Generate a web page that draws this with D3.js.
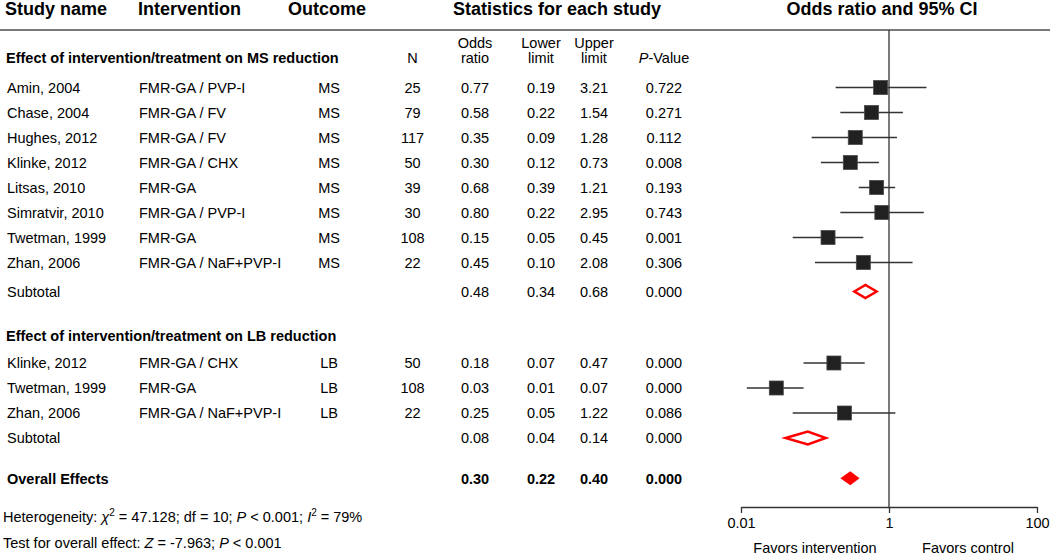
<!DOCTYPE html>
<html>
<head>
<meta charset="utf-8">
<script src="https://cdn.jsdelivr.net/npm/d3@7"></script>
<style>
  html, body { margin: 0; padding: 0; background: #fff; }
  svg { display: block; }
  text { font-family: "Liberation Sans", Arial, Helvetica, sans-serif; fill: #000; }
</style>
</head>
<body>
<svg id="chart" width="1050" height="554"></svg>
<script>
// ---------------- DATA ----------------
const colHeaders = ["Study name", "Intervention", "Outcome"];
const statHeaderTitle = "Statistics for each study";
const plotTitle = "Odds ratio and 95% CI";

const msGroupLabel = "Effect of intervention/treatment on MS reduction";
const msNames = ["Amin, 2004", "Chase, 2004", "Hughes, 2012", "Klinke, 2012", "Litsas, 2010", "Simratvir, 2010", "Twetman, 1999", "Zhan, 2006"];
const msInterventions = ["FMR-GA / PVP-I", "FMR-GA / FV", "FMR-GA / FV", "FMR-GA / CHX", "FMR-GA", "FMR-GA / PVP-I", "FMR-GA", "FMR-GA / NaF+PVP-I"];
const msOutcome = "MS";
const msN = [25, 79, 117, 50, 39, 30, 108, 22];
const msOR = [0.77, 0.58, 0.35, 0.30, 0.68, 0.80, 0.15, 0.45];
const msLower = [0.19, 0.22, 0.09, 0.12, 0.39, 0.22, 0.05, 0.10];
const msUpper = [3.21, 1.54, 1.28, 0.73, 1.21, 2.95, 0.45, 2.08];
const msP = [0.722, 0.271, 0.112, 0.008, 0.193, 0.743, 0.001, 0.306];
const msSubtotal = { or: 0.48, lower: 0.34, upper: 0.68, p: 0.000 };

const lbGroupLabel = "Effect of intervention/treatment on LB reduction";
const lbNames = ["Klinke, 2012", "Twetman, 1999", "Zhan, 2006"];
const lbInterventions = ["FMR-GA / CHX", "FMR-GA", "FMR-GA / NaF+PVP-I"];
const lbOutcome = "LB";
const lbN = [50, 108, 22];
const lbOR = [0.18, 0.03, 0.25];
const lbLower = [0.07, 0.012, 0.05];
const lbUpper = [0.47, 0.07, 1.22];
const lbP = [0.000, 0.000, 0.086];
const lbSubtotal = { or: 0.08, lower: 0.04, upper: 0.14, p: 0.000 };

const overall = { or: 0.30, lower: 0.22, upper: 0.40, p: 0.000 };

const axisTicks = [0.01, 1, 100];
const favorLabels = ["Favors intervention", "Favors control"];

// ---------------- LAYOUT ----------------
const svg = d3.select("#chart");
const FONT = 14.5;
const CAP = 5.2; // half cap height offset for baseline
const x = d3.scaleLog().domain([0.01, 100]).range([741, 1037]);
const fmt2 = d3.format(".2f"), fmt3 = d3.format(".3f");
const col = { name: 7, interv: 139, outcome: 329, n: 412.5, or: 475, lo: 541, hi: 594, p: 664 };

// Build row list
const rows = [];
let y = 58;
rows.push({ type: "group", label: msGroupLabel, y });
y = 87.5;
msNames.forEach((nm, i) => {
  rows.push({ type: "study", name: nm, interv: msInterventions[i], outcome: msOutcome, n: msN[i],
    or: msOR[i], lower: msLower[i], upper: msUpper[i], p: msP[i], y });
  y += 25;
});
y = y - 25 + 29;
rows.push(Object.assign({ type: "subtotal", name: "Subtotal", y }, msSubtotal));
y += 44;
rows.push({ type: "group", label: lbGroupLabel, y });
y += 27.5;
lbNames.forEach((nm, i) => {
  rows.push({ type: "study", name: nm, interv: lbInterventions[i], outcome: lbOutcome, n: lbN[i],
    or: lbOR[i], lower: lbLower[i], upper: lbUpper[i], p: lbP[i], y });
  y += 25;
});
rows.push(Object.assign({ type: "subtotal", name: "Subtotal", y }, lbSubtotal));
y += 40.3;
rows.push(Object.assign({ type: "overall", name: "Overall Effects", y }, overall));

const axisY = 507;

// ---------------- HEADER ----------------
const hdr = svg.append("g").attr("font-size", 18).attr("font-weight", "bold");
hdr.append("text").attr("x", 5).attr("y", 15).text(colHeaders[0]);
hdr.append("text").attr("x", 138).attr("y", 15).text(colHeaders[1]);
hdr.append("text").attr("x", 288).attr("y", 15).text(colHeaders[2]);
hdr.append("text").attr("x", 557).attr("y", 15).attr("text-anchor", "middle").text(statHeaderTitle);
hdr.append("text").attr("x", 882).attr("y", 15).attr("text-anchor", "middle").text(plotTitle);

svg.append("line").attr("x1", 0).attr("x2", 1050).attr("y1", 30).attr("y2", 30)
  .attr("stroke", "#7a7a7a").attr("stroke-width", 2);

// sub headers for stats
const sub = svg.append("g").attr("font-size", FONT).attr("text-anchor", "middle");
sub.append("text").attr("x", col.n).attr("y", 62.5).text("N");
[["Odds", "ratio", col.or], ["Lower", "limit", col.lo], ["Upper", "limit", col.hi]].forEach(([a, b, cx]) => {
  sub.append("text").attr("x", cx).attr("y", 48).text(a);
  sub.append("text").attr("x", cx).attr("y", 62.5).text(b);
});
const pv = sub.append("text").attr("x", col.p).attr("y", 62.5);
pv.append("tspan").attr("font-style", "italic").text("P");
pv.append("tspan").text("-Value");

// ---------------- FOREST PLOT REFERENCE LINE & AXIS ----------------
svg.append("line").attr("x1", x(1)).attr("x2", x(1)).attr("y1", 30).attr("y2", axisY)
  .attr("stroke", "#333").attr("stroke-width", 1.3);

const axis = d3.axisBottom(x).tickValues(axisTicks).tickSize(6).tickSizeOuter(0).tickPadding(4.5)
  .tickFormat(d => d3.format("~g")(d));
const ax = svg.append("g").attr("transform", `translate(0,${axisY})`).call(axis);
ax.select(".domain").attr("stroke", "#333").attr("stroke-width", 1.3);
ax.selectAll(".tick line").attr("stroke", "#333").attr("stroke-width", 1.3);
ax.selectAll(".tick text").attr("font-size", FONT).attr("fill", "#000")
  .attr("font-family", "Liberation Sans, Arial, sans-serif");

svg.append("text").attr("x", 815).attr("y", 552.5).attr("text-anchor", "middle").attr("font-size", FONT).text(favorLabels[0]);
svg.append("text").attr("x", 968).attr("y", 552.5).attr("text-anchor", "middle").attr("font-size", FONT).text(favorLabels[1]);

// ---------------- ROWS ----------------
const body = svg.append("g").attr("font-size", FONT);
rows.forEach(r => {
  const by = r.y + CAP;
  if (r.type === "group") {
    body.append("text").attr("x", 6).attr("y", by).attr("font-weight", "bold").text(r.label);
    return;
  }
  const g = body.append("g").attr("font-weight", r.type === "overall" ? "bold" : null);
  g.append("text").attr("x", col.name).attr("y", by).text(r.name);
  if (r.type === "study") {
    g.append("text").attr("x", col.interv).attr("y", by).text(r.interv);
    g.append("text").attr("x", col.outcome).attr("y", by).attr("text-anchor", "middle").text(r.outcome);
    g.append("text").attr("x", col.n).attr("y", by).attr("text-anchor", "middle").text(r.n);
  }
  g.append("text").attr("x", col.or).attr("y", by).attr("text-anchor", "middle").text(fmt2(r.or));
  g.append("text").attr("x", col.lo).attr("y", by).attr("text-anchor", "middle").text(fmt2(r.lower));
  g.append("text").attr("x", col.hi).attr("y", by).attr("text-anchor", "middle").text(fmt2(r.upper));
  g.append("text").attr("x", col.p).attr("y", by).attr("text-anchor", "middle").text(fmt3(r.p));

  // marks
  if (r.type === "study") {
    svg.append("line").attr("x1", x(r.lower)).attr("x2", x(r.upper)).attr("y1", r.y).attr("y2", r.y)
      .attr("stroke", "#333").attr("stroke-width", 1.3);
    const s = 14;
    svg.append("rect").attr("x", x(r.or) - s / 2).attr("y", r.y - s / 2).attr("width", s).attr("height", s)
      .attr("fill", "#212121").attr("stroke", "#4a4a4a").attr("stroke-width", 0.8);
  } else {
    const h = r.type === "overall" ? 7 : 6.5;
    const pts = [[x(r.lower), r.y], [x(r.or), r.y - h], [x(r.upper), r.y], [x(r.or), r.y + h]];
    svg.append("path").attr("d", d3.line()(pts) + "Z")
      .attr("fill", r.type === "overall" ? "#ff0000" : "#fff")
      .attr("stroke", r.type === "overall" ? "none" : "#ff0000")
      .attr("stroke-width", 2.5).attr("stroke-linejoin", "miter");
  }
});

// ---------------- FOOTNOTES ----------------
const f1 = svg.append("text").attr("x", 3).attr("y", 522).attr("font-size", FONT);
f1.append("tspan").text("Heterogeneity: ");
f1.append("tspan").attr("font-style", "italic").text("χ");
f1.append("tspan").attr("font-size", 10).attr("dy", -6).text("2");
f1.append("tspan").attr("dy", 6).text(" = 47.128; df = 10; ");
f1.append("tspan").attr("font-style", "italic").text("P");
f1.append("tspan").text(" < 0.001; ");
f1.append("tspan").attr("font-style", "italic").text("I");
f1.append("tspan").attr("font-size", 10).attr("dy", -6).text("2");
f1.append("tspan").attr("dy", 6).text(" = 79%");

const f2 = svg.append("text").attr("x", 3).attr("y", 548).attr("font-size", FONT);
f2.append("tspan").text("Test for overall effect: ");
f2.append("tspan").attr("font-style", "italic").text("Z");
f2.append("tspan").text(" = -7.963; ");
f2.append("tspan").attr("font-style", "italic").text("P");
f2.append("tspan").text(" < 0.001");
</script>
</body>
</html>
